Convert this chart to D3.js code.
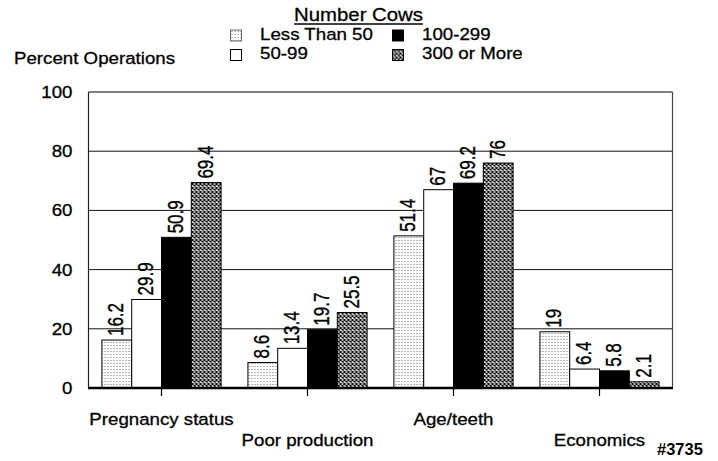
<!DOCTYPE html>
<html>
<head>
<meta charset="utf-8">
<script src="https://cdn.jsdelivr.net/npm/d3@7"></script>
<style>
  body { margin: 0; background: #fff; }
  text { font-family: "Liberation Sans", Arial, sans-serif; fill: #000; stroke: #000; stroke-width: 0.3px; }
</style>
</head>
<body>
<div id="figure-container"></div>
<script>
var categories = ['Pregnancy status', 'Poor production', 'Age/teeth', 'Economics'];
var series = ['Less Than 50', '50-99', '100-299', '300 or More'];
var lessThan50 = [16.2, 8.6, 51.4, 19];
var from50to99 = [29.9, 13.4, 67, 6.4];
var from100to299 = [50.9, 19.7, 69.2, 5.8];
var over300 = [69.4, 25.5, 76, 2.1];
var yTicks = [0, 20, 40, 60, 80, 100];

var values = [lessThan50, from50to99, from100to299, over300];
var fills = ['url(#dots)', '#fff', '#000', 'url(#hatch)'];

var margin = {top: 92, right: 45.5, bottom: 73, left: 88.5};
var fullWidth = 718, fullHeight = 461;
var width = fullWidth - margin.left - margin.right;
var height = fullHeight - margin.top - margin.bottom;
var sx = 1.1; // text in the scan is a bit stretched sideways

var rows = [];
categories.forEach(function(c, ci) {
  series.forEach(function(s, si) {
    rows.push({cat: c, ser: s, si: si, v: values[si][ci]});
  });
});

var x0 = d3.scaleBand().domain(categories).range([0, width]);
var x1 = d3.scaleBand().domain(series).range([0, x0.bandwidth()]).paddingOuter(0.45);
var y = d3.scaleLinear().domain([0, 100]).range([height, 0]);

var root = d3.select('#figure-container').append('svg')
  .attr('width', fullWidth)
  .attr('height', fullHeight);

root.append('rect').attr('width', fullWidth).attr('height', fullHeight).attr('fill', '#fff');

var defs = root.append('defs');
var dots = defs.append('pattern').attr('id', 'dots')
  .attr('patternUnits', 'userSpaceOnUse').attr('width', 3).attr('height', 3);
dots.append('rect').attr('width', 3).attr('height', 3).attr('fill', '#fff');
dots.append('rect').attr('x', 1).attr('y', 1).attr('width', 1).attr('height', 1).attr('fill', '#6a6a6a');

var hatch = defs.append('pattern').attr('id', 'hatch')
  .attr('patternUnits', 'userSpaceOnUse').attr('width', 4).attr('height', 4);
hatch.append('rect').attr('width', 4).attr('height', 4).attr('fill', '#fff');
hatch.append('path').attr('d', 'M-1,-1L5,5M5,-1L-1,5')
  .attr('stroke', '#000').attr('stroke-width', 1.1);

var svg = root.append('g')
  .attr('transform', `translate(${margin.left},${margin.top})`);

// gridlines
svg.append('g')
  .selectAll('line')
  .data([20, 40, 60, 80])
  .enter().append('line')
    .attr('x1', 0).attr('x2', width)
    .attr('y1', function(d) { return y(d); })
    .attr('y2', function(d) { return y(d); })
    .attr('stroke', '#111').attr('stroke-width', 1);

// frame
svg.append('line').attr('x1', 0).attr('x2', width).attr('y1', 0).attr('y2', 0)
  .attr('stroke', '#555').attr('stroke-width', 1.5);
svg.append('line').attr('x1', 0).attr('x2', 0).attr('y1', 0).attr('y2', height)
  .attr('stroke', '#222').attr('stroke-width', 1.2);
svg.append('line').attr('x1', width).attr('x2', width).attr('y1', 0).attr('y2', height)
  .attr('stroke', '#444').attr('stroke-width', 1.2);

// bars
svg.append('g').selectAll('rect')
  .data(rows)
  .enter().append('rect')
    .attr('x', function(d) { return x0(d.cat) + x1(d.ser); })
    .attr('y', function(d) { return y(d.v); })
    .attr('width', x1.bandwidth())
    .attr('height', function(d) { return y(0) - y(d.v); })
    .attr('fill', function(d) { return fills[d.si]; })
    .attr('stroke', '#000')
    .attr('stroke-width', 1);

// value labels
svg.append('g').selectAll('text')
  .data(rows)
  .enter().append('text')
    .attr('transform', function(d) {
      var cx = x0(d.cat) + x1(d.ser) + x1.bandwidth() / 2 + 6.5;
      return `translate(${cx},${y(d.v) - 4}) scale(1.25,1) rotate(-90)`;
    })
    .style('font-size', '17px')
    .text(function(d) { return String(d.v); });

// baseline
svg.append('line').attr('x1', -0.5).attr('x2', width + 0.5)
  .attr('y1', height).attr('y2', height)
  .attr('stroke', '#000').attr('stroke-width', 2.5);

// y axis
var yAxis = d3.axisLeft(y).tickValues(yTicks).tickSize(0);
var yg = svg.append('g').call(yAxis);
yg.select('.domain').remove();
yg.selectAll('text')
  .attr('x', null)
  .attr('transform', `translate(-16,0) scale(${sx},1)`)
  .style('font-size', '17px')
  .attr('fill', '#000');

// x axis
var xAxis = d3.axisBottom(x0).tickSize(8);
var xg = svg.append('g')
  .attr('transform', `translate(0,${height})`)
  .call(xAxis);
xg.select('.domain').remove();
xg.selectAll('line').attr('stroke', '#000').attr('stroke-width', 1.2);
xg.selectAll('text')
  .attr('y', null)
  .attr('dy', null)
  .attr('transform', function(d, i) { return `translate(0,${i % 2 ? 58 : 37}) scale(${sx},1)`; })
  .style('font-size', '17px')
  .attr('fill', '#000');

// y title
root.append('text')
  .attr('transform', `translate(14,64) scale(${sx},1)`)
  .style('font-size', '17px')
  .text('Percent Operations');

// legend
var title = root.append('text')
  .attr('transform', `translate(358.5,20.5) scale(${sx},1)`)
  .attr('text-anchor', 'middle')
  .style('font-size', '18.5px')
  .text('Number Cows');
var tw = title.node().getComputedTextLength() * sx;
root.append('line')
  .attr('x1', 358.5 - tw / 2).attr('x2', 358.5 + tw / 2)
  .attr('y1', 24).attr('y2', 24)
  .attr('stroke', '#000').attr('stroke-width', 1.5);

var legend = root.append('g').selectAll('g')
  .data(series)
  .enter().append('g')
    .attr('transform', function(d, i) {
      return `translate(${230.5 + Math.floor(i / 2) * 162},${30 + (i % 2) * 19.5})`;
    });
legend.append('rect')
  .attr('width', 11).attr('height', 11)
  .attr('fill', function(d, i) { return fills[i]; })
  .attr('stroke', function(d, i) { return i === 0 ? '#666' : '#000'; })
  .attr('stroke-width', 1);
legend.append('text')
  .attr('transform', `translate(29.5,9.5) scale(${sx},1)`)
  .style('font-size', '17px')
  .text(function(d) { return d; });

// figure number
root.append('text')
  .attr('transform', 'translate(657,455)')
  .style('font-size', '16.5px')
  .style('font-weight', 'bold')
  .style('stroke-width', 0)
  .text('#3735');
</script>
</body>
</html>
